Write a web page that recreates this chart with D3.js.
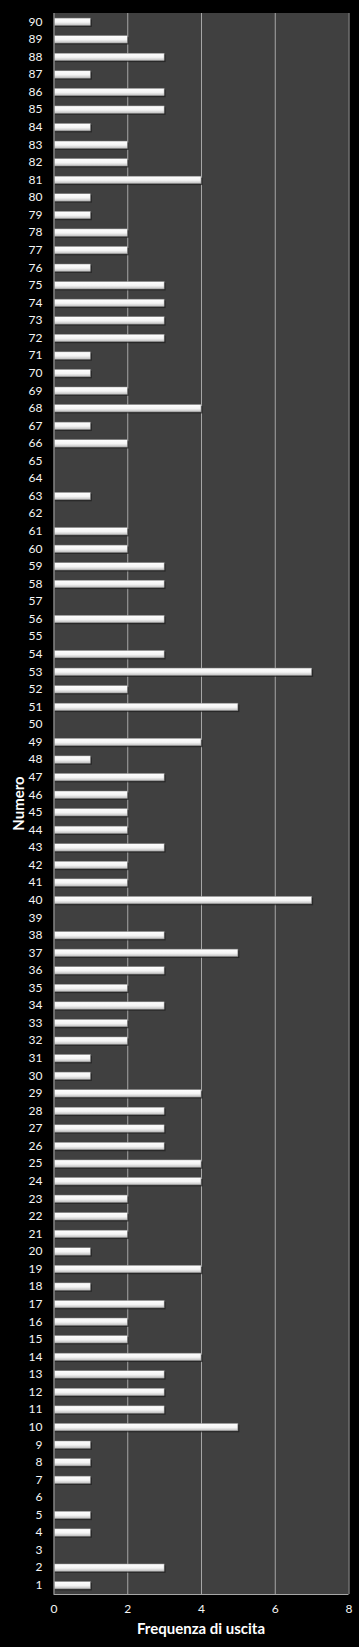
<!DOCTYPE html>
<html>
<head>
<meta charset="utf-8">
<script src="https://cdn.jsdelivr.net/npm/d3@7"></script>
<style>
  html, body { margin: 0; padding: 0; background: #000; }
  svg { display: block; }
</style>
</head>
<body>
<svg id="chart"></svg>
<script>
const WIDTH = 359;
const HEIGHT = 1647;

// numbers 1..90 and how many times each came out
const numeri = d3.range(1, 91);
const frequenze = [
  1, 3, 0, 1, 1, 0, 1, 1, 1, 5,   // 1-10
  3, 3, 3, 4, 2, 2, 3, 1, 4, 1,   // 11-20
  2, 2, 2, 4, 4, 3, 3, 3, 4, 1,   // 21-30
  1, 2, 2, 3, 2, 3, 5, 3, 0, 7,   // 31-40
  2, 2, 3, 2, 2, 2, 3, 1, 4, 0,   // 41-50
  5, 2, 7, 3, 0, 3, 0, 3, 3, 2,   // 51-60
  2, 0, 1, 0, 0, 2, 1, 4, 2, 1,   // 61-70
  1, 3, 3, 3, 3, 1, 2, 2, 1, 1,   // 71-80
  4, 2, 2, 1, 3, 3, 1, 3, 2, 1    // 81-90
];
const xTicks = [0, 2, 4, 6, 8];

const margin = { top: 13, right: 10.5, bottom: 53, left: 53.5 };
const innerW = WIDTH - margin.left - margin.right;
const innerH = HEIGHT - margin.top - margin.bottom;

const svg = d3.select('#chart')
  .attr('width', WIDTH)
  .attr('height', HEIGHT);

svg.append('rect')
  .attr('width', WIDTH)
  .attr('height', HEIGHT)
  .attr('fill', '#000');

const defs = svg.append('defs');
const grad = defs.append('linearGradient')
  .attr('id', 'barGrad')
  .attr('x1', 0).attr('y1', 0).attr('x2', 0).attr('y2', 1);
grad.append('stop').attr('offset', '0%').attr('stop-color', '#ffffff');
grad.append('stop').attr('offset', '55%').attr('stop-color', '#f4f4f4');
grad.append('stop').attr('offset', '100%').attr('stop-color', '#bdbdbd');

const g = svg.append('g')
  .attr('transform', `translate(${margin.left},${margin.top})`);

const x = d3.scaleLinear().domain([0, 8]).range([0, innerW]);
const y = d3.scaleBand()
  .domain(numeri.slice().reverse())
  .range([0, innerH])
  .paddingInner(0.58)
  .paddingOuter(0.29);

// plot background
g.append('rect')
  .attr('width', innerW)
  .attr('height', innerH)
  .attr('fill', '#404040');

// vertical gridlines
g.append('g')
  .selectAll('line')
  .data(xTicks.filter(t => t > 0))
  .join('line')
  .attr('x1', d => x(d) + 0.5)
  .attr('x2', d => x(d) + 0.5)
  .attr('y1', 0)
  .attr('y2', innerH)
  .attr('stroke', '#a6a6a6')
  .attr('stroke-width', 1);

// bottom and left axis lines
g.append('line')
  .attr('x1', 0).attr('x2', innerW)
  .attr('y1', innerH + 0.5).attr('y2', innerH + 0.5)
  .attr('stroke', '#a6a6a6');
g.append('line')
  .attr('x1', 0.5).attr('x2', 0.5)
  .attr('y1', 0).attr('y2', innerH)
  .attr('stroke', '#a6a6a6');

// bars with a small drop shadow
const bars = g.append('g')
  .selectAll('g')
  .data(numeri.map((n, i) => ({ n, v: frequenze[i] })).filter(d => d.v > 0))
  .join('g');

bars.append('rect')
  .attr('x', 1.5)
  .attr('y', d => y(d.n) + 1.5)
  .attr('width', d => x(d.v))
  .attr('height', y.bandwidth())
  .attr('fill', '#1e1e1e')
  .attr('opacity', 0.7);

bars.append('rect')
  .attr('x', 1)
  .attr('y', d => y(d.n))
  .attr('width', d => x(d.v) - 1)
  .attr('height', y.bandwidth())
  .attr('fill', 'url(#barGrad)')
  .attr('stroke', '#8c8c8c')
  .attr('stroke-width', 0.5);

// y axis labels
const yAxis = g.append('g')
  .call(d3.axisLeft(y).tickSize(0).tickPadding(11));
yAxis.select('.domain').remove();
yAxis.selectAll('text')
  .attr('fill', '#f5f5f5')
  .attr('font-family', 'Lato, "Open Sans", sans-serif')
  .attr('font-size', 12);

// x axis labels
const xAxis = g.append('g')
  .attr('transform', `translate(0,${innerH})`)
  .call(d3.axisBottom(x).tickValues(xTicks).tickSize(0).tickPadding(10).tickFormat(d3.format('d')));
xAxis.select('.domain').remove();
xAxis.selectAll('text')
  .attr('fill', '#f5f5f5')
  .attr('font-family', 'Lato, "Open Sans", sans-serif')
  .attr('font-size', 12);

// axis titles
svg.append('text')
  .attr('x', margin.left + innerW / 2)
  .attr('y', 1634)
  .attr('text-anchor', 'middle')
  .attr('fill', '#ffffff')
  .attr('font-family', 'Lato, "Open Sans", sans-serif')
  .attr('font-weight', 'bold')
  .attr('font-size', 15)
  .text('Frequenza di uscita');

svg.append('text')
  .attr('transform', `translate(24,${margin.top + innerH / 2}) rotate(-90)`)
  .attr('text-anchor', 'middle')
  .attr('fill', '#ffffff')
  .attr('font-family', 'Lato, "Open Sans", sans-serif')
  .attr('font-weight', 'bold')
  .attr('font-size', 15)
  .text('Numero');
</script>
</body>
</html>
